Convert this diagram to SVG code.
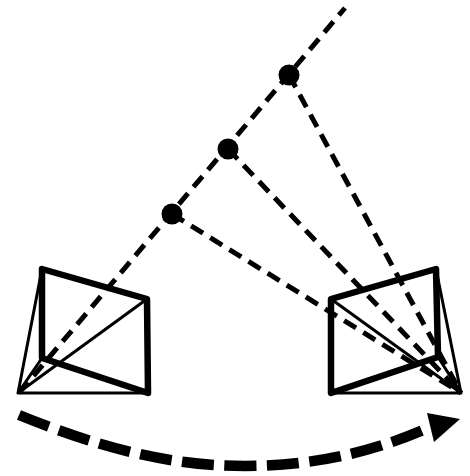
<svg xmlns="http://www.w3.org/2000/svg" width="470" height="476" viewBox="0 0 470 476">
<style>
.frame{fill:none;stroke:#000;stroke-width:6.500;stroke-linejoin:round;stroke-linecap:round}
.thin{fill:none;stroke:#000;stroke-width:3;stroke-linecap:round}
.ray{fill:none;stroke:#000;stroke-width:5;stroke-dasharray:14 8.500}
.pt{fill:#000}
</style>
<rect width="470" height="476" fill="#fff"/>
<g id="connectors">
<path class="ray" d="M19 393L345 8"/>
<path class="ray" d="M289 75L461 393"/>
<path class="ray" d="M228 149L461 393"/>
<path class="ray" d="M172 214L461 393"/>
<path d="M19 415C100 448 170 466 245 466C320 466 380 449 428 428" fill="none" stroke="#000" stroke-width="10.500" stroke-dasharray="32 10.500"/>
<polygon points="427,413 460,419 434,442" fill="#000"/>
</g>
<g id="camera-left">
<path class="frame" d="M42 269L147 299L148 393L42 358Z"/>
<path class="thin" d="M18 393L42 269M18 393H148M18 393L147 299M18 393L42 358"/>
</g>
<g id="camera-right">
<path class="frame" d="M331 299L436 269L438 357L331 393Z"/>
<path class="thin" d="M461 393L436 269M461 393H331M461 393L331 299M461 393L438 357"/>
</g>
<g id="point-1"><circle class="pt" cx="172" cy="214" r="10.500"/></g>
<g id="point-2"><circle class="pt" cx="228" cy="149" r="10.500"/></g>
<g id="point-3"><circle class="pt" cx="289" cy="75" r="10.500"/></g>
</svg>
